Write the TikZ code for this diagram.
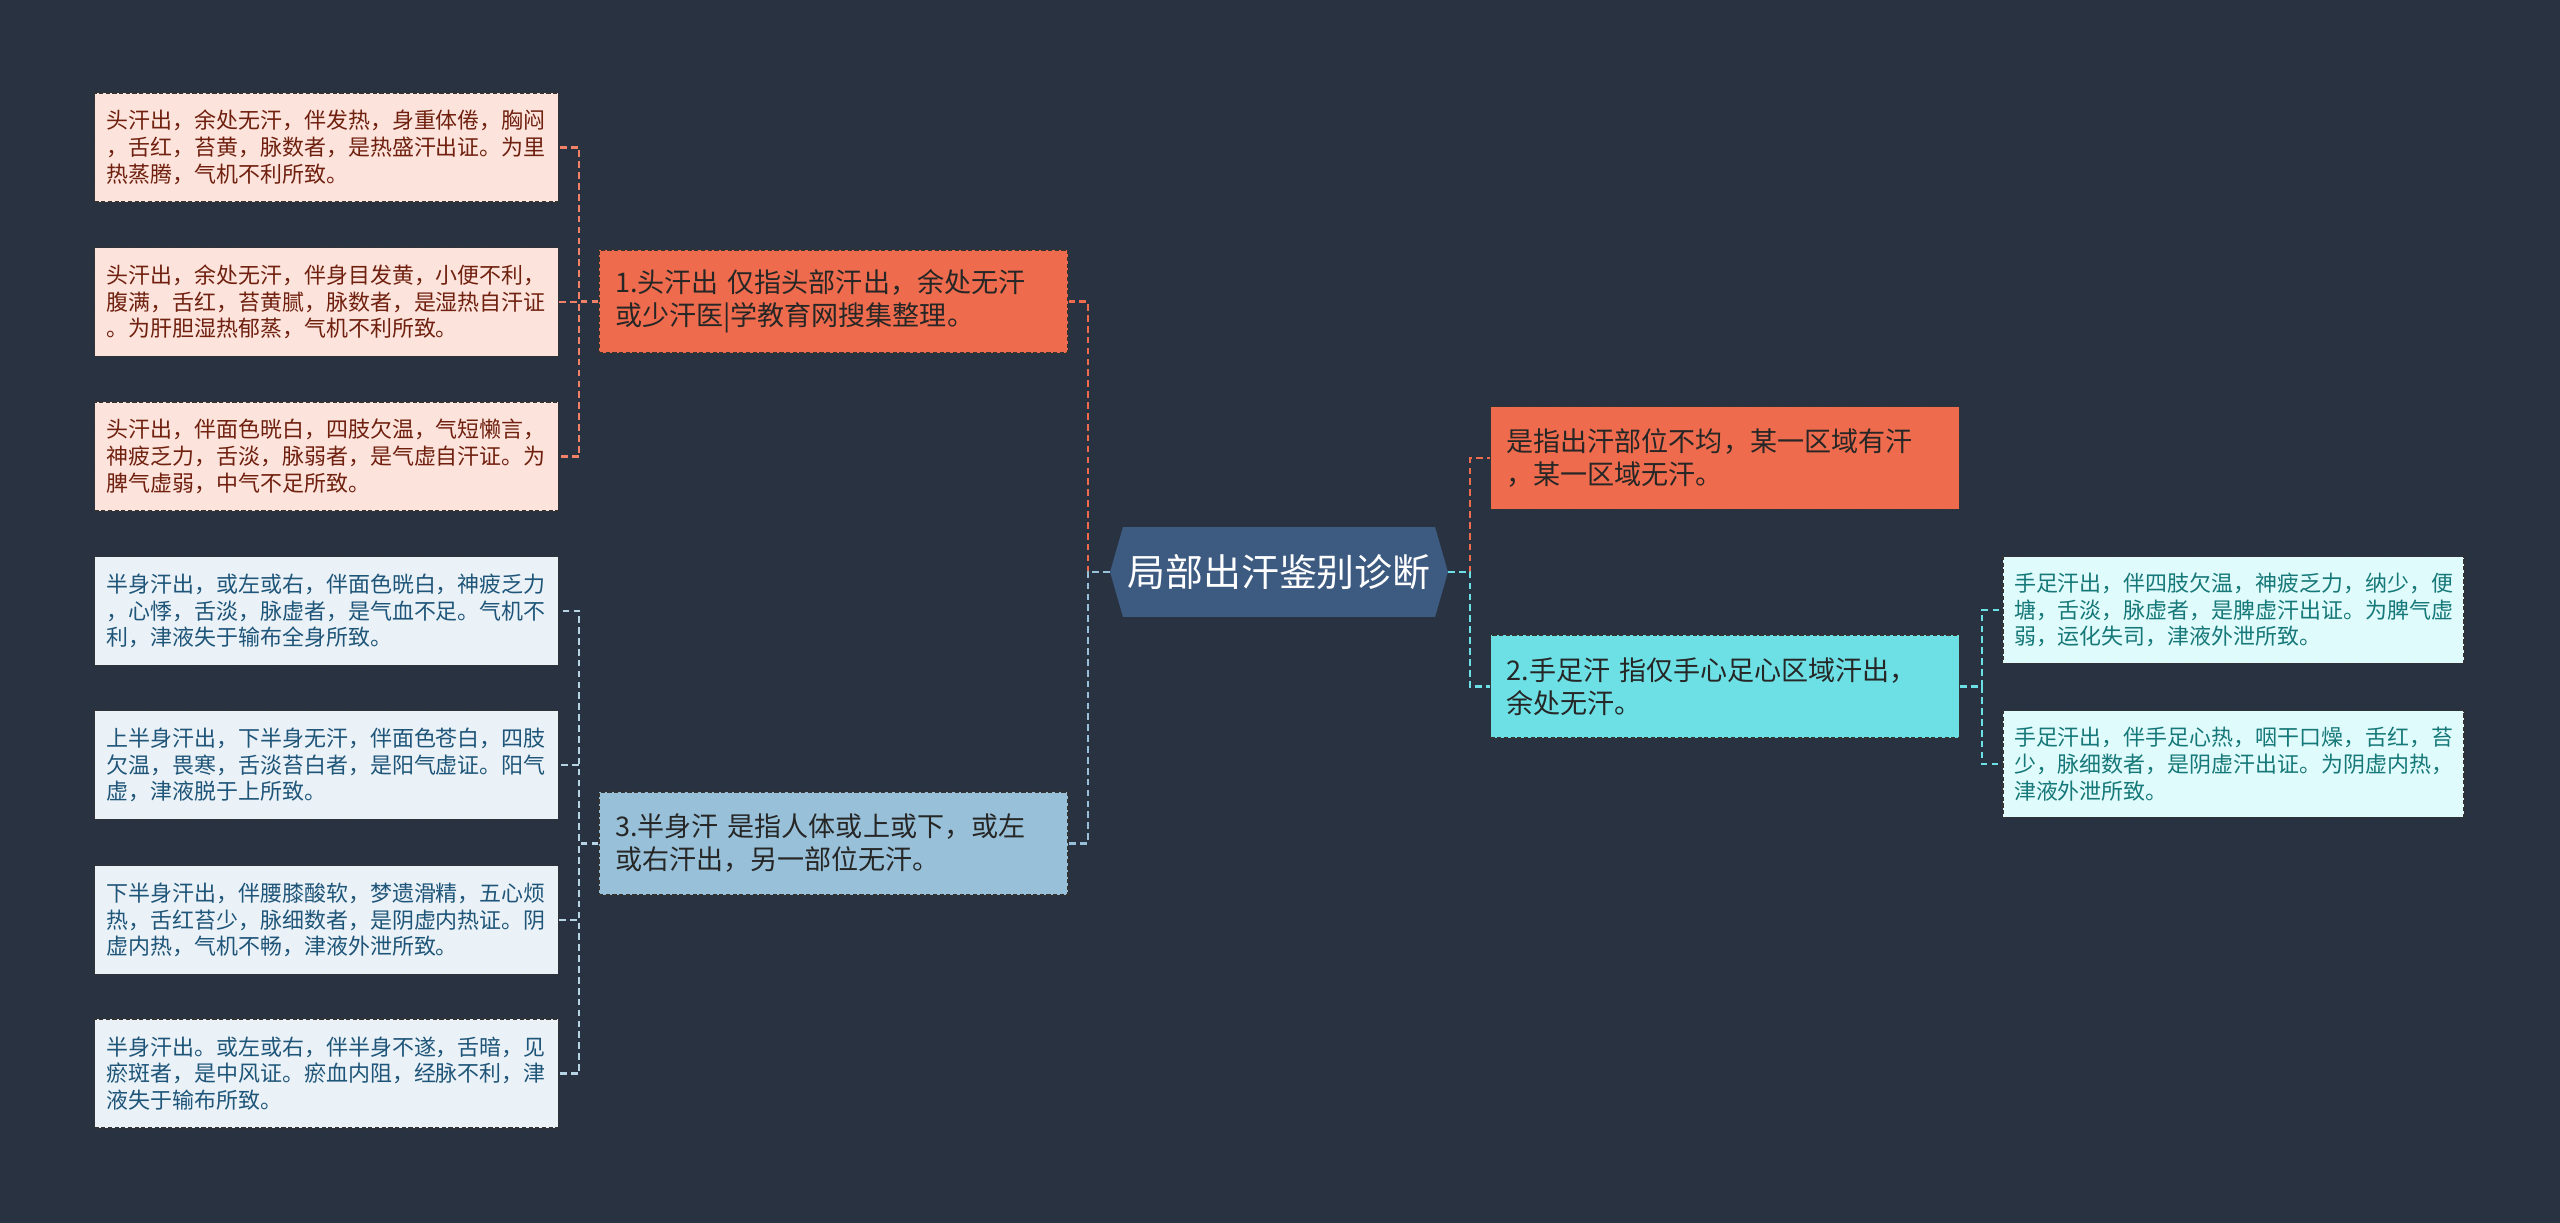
\documentclass[tikz,border=0pt]{standalone}
\usepackage{fontspec}
\setmainfont{Noto Sans CJK SC}
\usetikzlibrary{shapes.symbols,positioning}
\definecolor{bgnavy}{HTML}{293241}
\definecolor{rootblue}{HTML}{3D5A80}
\definecolor{orangebr}{HTML}{EE6C4D}
\definecolor{cyanbr}{HTML}{6CE0E4}
\definecolor{bluebr}{HTML}{98C1D9}
\definecolor{pinkleaf}{HTML}{FCE4DC}
\definecolor{blueleaf}{HTML}{EAF2F8}
\definecolor{cyanleaf}{HTML}{E0FBFC}
\definecolor{pinktext}{HTML}{70200F}
\definecolor{bluetext}{HTML}{1F5578}
\definecolor{cyantext}{HTML}{167878}
\definecolor{boxline}{HTML}{333333}
\tikzset{
  box/.style={draw=boxline, line width=0.8pt, dash pattern=on 2.4pt off 1.4pt,
    align=left, inner ysep=0pt},
  leaf/.style={box, inner xsep=0.24cm, text width=8.8cm, minimum height=2.18cm,
    font=\fontsize{12.5pt}{15.2pt}\selectfont},
  rleaf/.style={leaf, inner xsep=0.22cm, text width=8.78cm, minimum height=2.14cm},
  branch/.style={box, inner xsep=0.32cm, text width=8.74cm, minimum height=2.06cm,
    text=black!85, font=\fontsize{15.4pt}{18.8pt}\selectfont},
  hub/.style={signal, signal to=west and east, signal pointer angle=148,
    fill=rootblue, text=white, minimum width=6.76cm, minimum height=1.8cm,
    inner sep=0pt, font=\fontsize{21.6pt}{24pt}\selectfont},
  lnk/.style={draw=#1, line width=1.2pt, dash pattern=on 3.8pt off 2.4pt}
}
\begin{document}
\begin{tikzpicture}[x=0.02cm,y=-0.02cm]
%
\fill[bgnavy] (0,0) rectangle (2560,1223);
\useasboundingbox (0,0) rectangle (2560,1223);
%
\node[hub] (root) at (1279,572) {局部出汗鉴别诊断};
%
\node[branch, fill=orangebr] (lb1) at (833.5,301.5) {1.头汗出 仅指头部汗出，余处无汗\\或少汗医|学教育网搜集整理。};
\node[branch, fill=bluebr] (lb3) at (833.5,843.5) {3.半身汗 是指人体或上或下，或左\\或右汗出，另一部位无汗。};
\node[branch, fill=orangebr] (rb1) at (1725,458) {是指出汗部位不均，某一区域有汗\\，某一区域无汗。};
\node[branch, fill=cyanbr] (rb2) at (1725,686.5) {2.手足汗 指仅手心足心区域汗出，\\余处无汗。};
%
\node[leaf, fill=pinkleaf, text=pinktext] (h1) at (326.5,147.5) {头汗出，余处无汗，伴发热，身重体倦，胸闷\\，舌红，苔黄，脉数者，是热盛汗出证。为里\\热蒸腾，气机不利所致。};
\node[leaf, fill=pinkleaf, text=pinktext] (h2) at (326.5,302) {头汗出，余处无汗，伴身目发黄，小便不利，\\腹满，舌红，苔黄腻，脉数者，是湿热自汗证\\。为肝胆湿热郁蒸，气机不利所致。};
\node[leaf, fill=pinkleaf, text=pinktext] (h3) at (326.5,456.5) {头汗出，伴面色晄白，四肢欠温，气短懒言，\\神疲乏力，舌淡，脉弱者，是气虚自汗证。为\\脾气虚弱，中气不足所致。};
\node[leaf, fill=blueleaf, text=bluetext] (b1) at (326.5,611) {半身汗出，或左或右，伴面色晄白，神疲乏力\\，心悸，舌淡，脉虚者，是气血不足。气机不\\利，津液失于输布全身所致。};
\node[leaf, fill=blueleaf, text=bluetext] (b2) at (326.5,765) {上半身汗出，下半身无汗，伴面色苍白，四肢\\欠温，畏寒，舌淡苔白者，是阳气虚证。阳气\\虚，津液脱于上所致。};
\node[leaf, fill=blueleaf, text=bluetext] (b3) at (326.5,920) {下半身汗出，伴腰膝酸软，梦遗滑精，五心烦\\热，舌红苔少，脉细数者，是阴虚内热证。阴\\虚内热，气机不畅，津液外泄所致。};
\node[leaf, fill=blueleaf, text=bluetext] (b4) at (326.5,1073.5) {半身汗出。或左或右，伴半身不遂，舌暗，见\\瘀斑者，是中风证。瘀血内阻，经脉不利，津\\液失于输布所致。};
\node[rleaf, fill=cyanleaf, text=cyantext] (s1) at (2233.5,610) {手足汗出，伴四肢欠温，神疲乏力，纳少，便\\塘，舌淡，脉虚者，是脾虚汗出证。为脾气虚\\弱，运化失司，津液外泄所致。};
\node[rleaf, fill=cyanleaf, text=cyantext] (s2) at (2233.5,764) {手足汗出，伴手足心热，咽干口燥，舌红，苔\\少，脉细数者，是阴虚汗出证。为阴虚内热，\\津液外泄所致。};
%
\draw[lnk=orangebr] (root.west) -- ++(-22,0) |- (lb1.east);
\draw[lnk=bluebr] (root.west) -- ++(-22,0) |- (lb3.east);
\draw[lnk=orangebr] (root.east) -- ++(22,0) |- (rb1.west);
\draw[lnk=cyanbr] (root.east) -- ++(22,0) |- (rb2.west);
%
\foreach \n in {h1,h2,h3}
  \draw[lnk=orangebr!85!white] (lb1.west) -- ++(-19,0) |- (\n.east);
\foreach \n in {b1,b2,b3,b4}
  \draw[lnk=bluebr!70!white] (lb3.west) -- ++(-19,0) |- (\n.east);
\foreach \n in {s1,s2}
  \draw[lnk=cyanbr] (rb2.east) -- ++(22,0) |- (\n.west);
%
\end{tikzpicture}
\end{document}
